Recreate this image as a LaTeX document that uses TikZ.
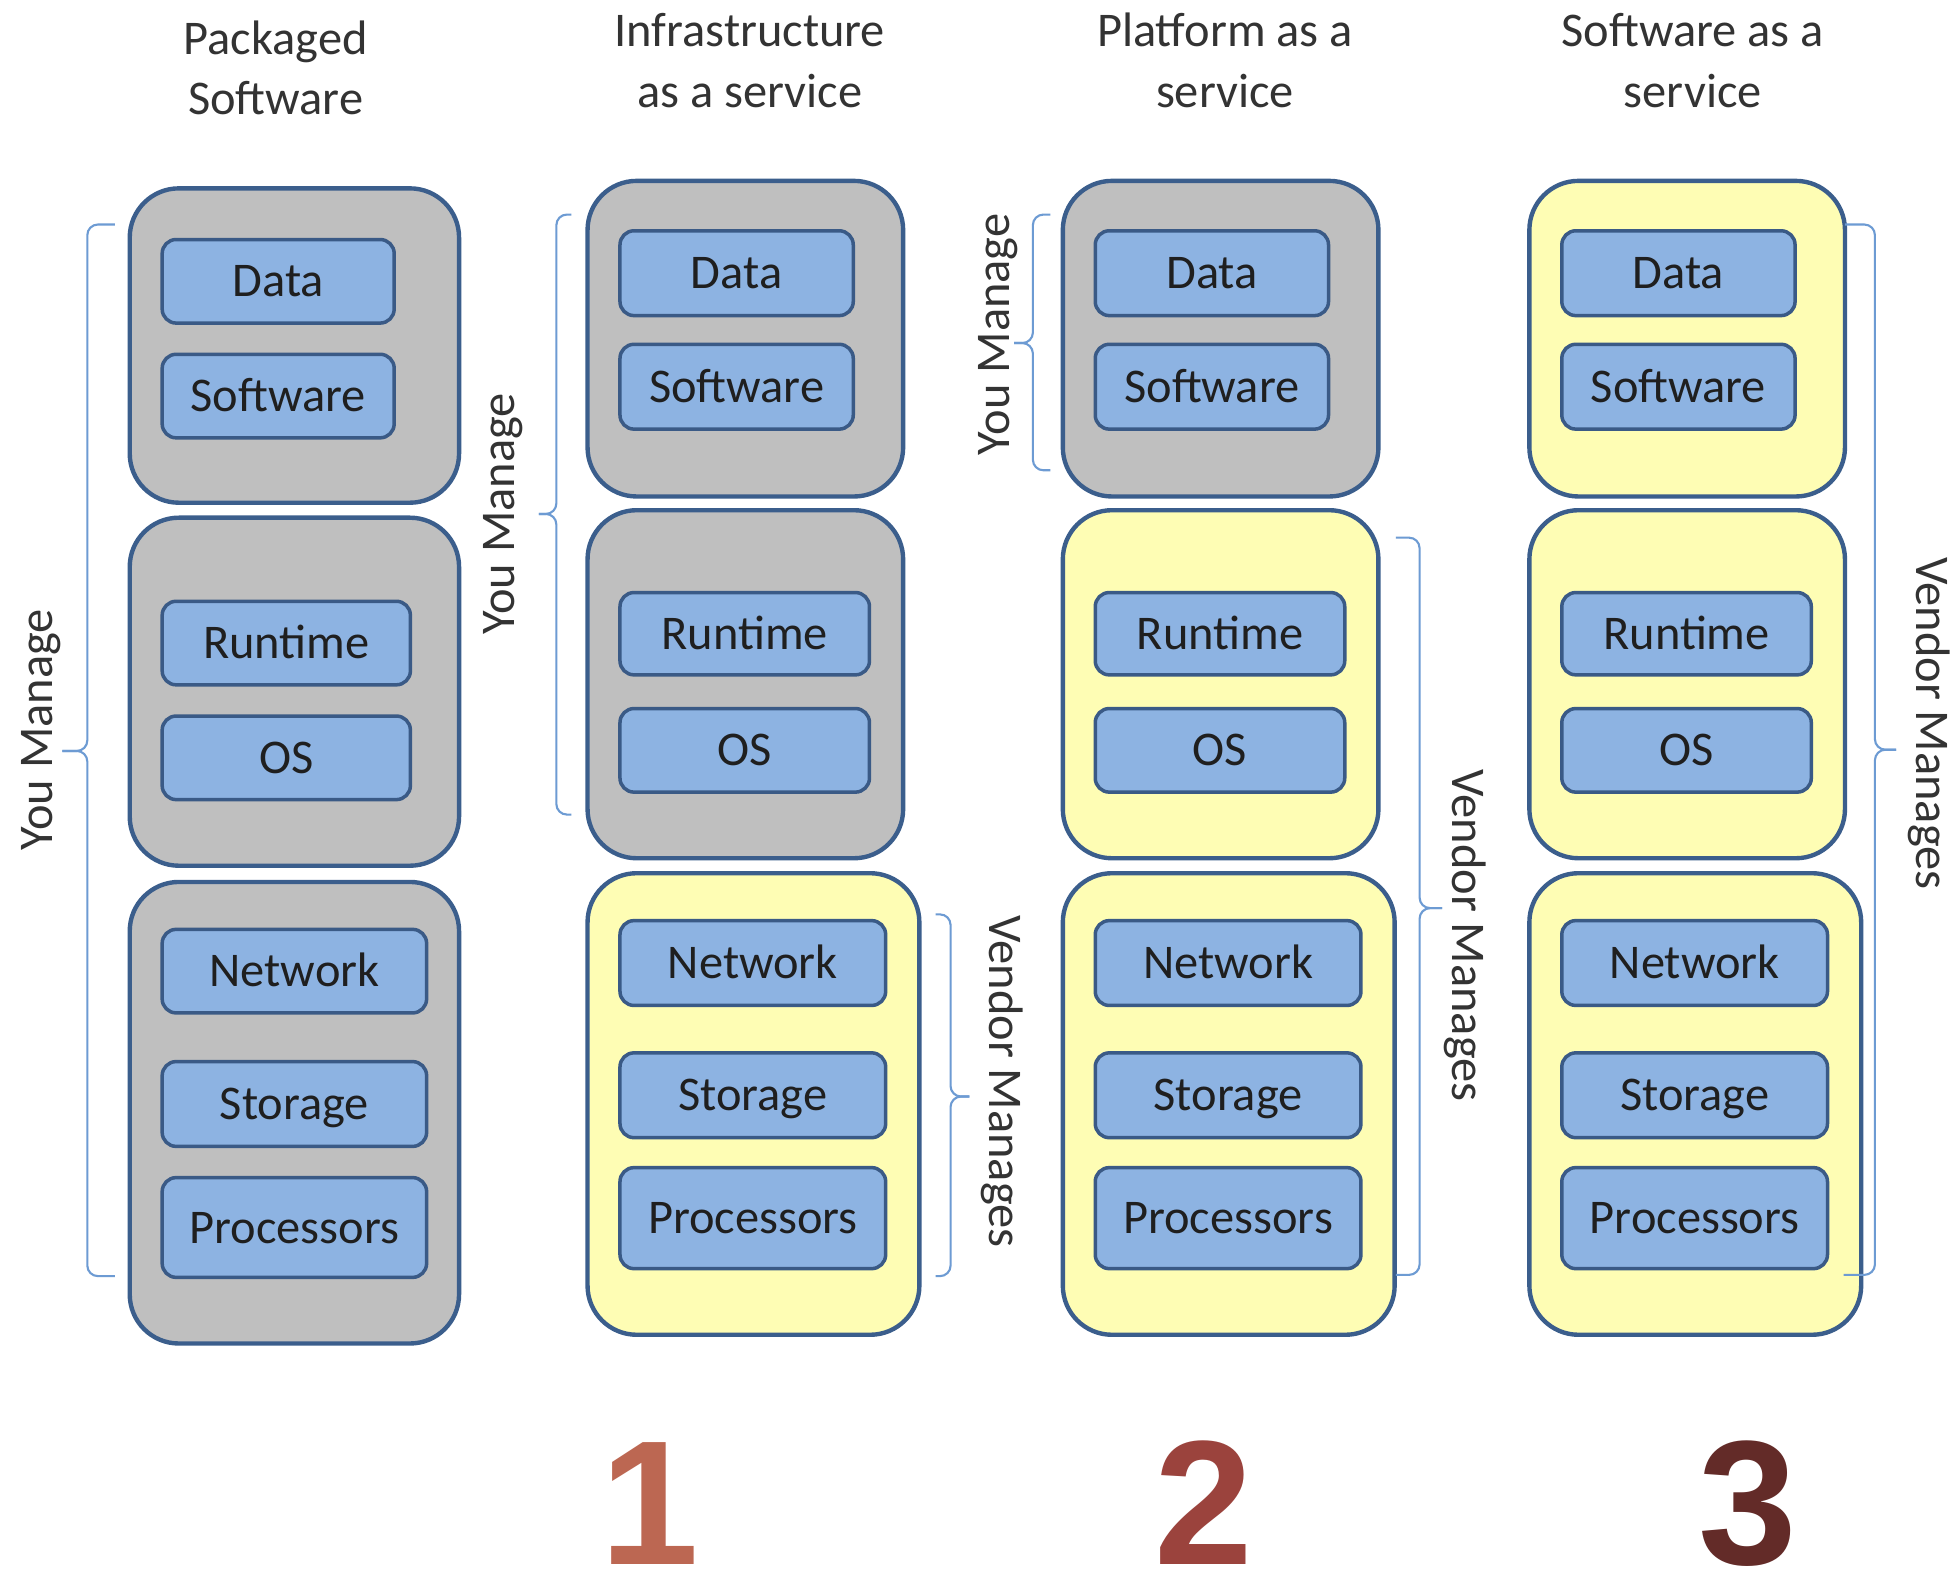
\documentclass[tikz,border=0pt]{standalone}
\usepackage{fontspec}
\setmainfont{Carlito}
\newfontfamily\numfont{Liberation Sans}
\usetikzlibrary{fit}
\definecolor{obord}{HTML}{3B5E8C}
\definecolor{gfill}{HTML}{BFBFBF}
\definecolor{yfill}{HTML}{FEFDB4}
\definecolor{ibord}{HTML}{3A5A86}
\definecolor{ifill}{HTML}{8DB3E2}
\definecolor{brc}{HTML}{6D9BD3}
\definecolor{hdr}{HTML}{333333}
\definecolor{numA}{HTML}{BC6752}
\definecolor{numB}{HTML}{9B433D}
\definecolor{numC}{HTML}{632B28}
% name, x1, y1, x2, y2, text
\newcommand\layerbox[6]{%
  \node[layer, minimum width={(#4-#2)*0.0125cm}, minimum height={(#5-#3)*0.0125cm}]
    (#1) at ({(#2+#4)/2},{(#3+#5)/2}) {#6};}
\begin{document}
\begin{tikzpicture}[x=0.0125cm,y=-0.0125cm,
  outerbox/.style={draw=obord, line width=1.25pt, rounded corners=14pt, inner sep=0pt},
  layer/.style={draw=ibord, line width=1pt, fill=ifill, rounded corners=4pt, inner sep=0pt, outer sep=0pt,
    font=\fontsize{13.8}{16}\selectfont, text=black!88, text height=8.85pt, text depth=0pt},
  hdrtext/.style={anchor=base, inner sep=0pt, font=\fontsize{13.8}{17}\selectfont, text=hdr},
  sidetext/.style={font=\fontsize{13.8}{16}\selectfont, text=hdr, text height=8.85pt, text depth=0pt, inner sep=0pt},
  bracel/.style={draw=brc, line width=0.6pt, rounded corners=3pt},
  numtext/.style={font=\numfont\bfseries\fontsize{50.5}{60}\selectfont, anchor=base, inner sep=0pt}
]
\fill[white] (0,0) rectangle (1568,1262);
\useasboundingbox (0,0) rectangle (1568,1262);

% headers
\node[hdrtext] (h1a) at (221,44) {Packaged};
\node[hdrtext] (h1b) at (221,92) {Software};
\node[hdrtext] (h2a) at (601,37) {Infrastructure};
\node[hdrtext] (h2b) at (601,86) {as a service};
\node[hdrtext] (h3a) at (982,37) {Platform as a};
\node[hdrtext] (h3b) at (982,86) {service};
\node[hdrtext] (h4a) at (1357,37) {Software as a};
\node[hdrtext] (h4b) at (1357,86) {service};

% column 1: packaged software
\node[outerbox, fill=gfill, fit={(104,151)(368,403)}] (o11) {};
\layerbox{data1}{130}{192}{316}{259}{Data}
\layerbox{soft1}{130}{284}{316}{351}{Software}
\node[outerbox, fill=gfill, fit={(104,415)(368,694)}] (o12) {};
\layerbox{run1}{130}{482}{329}{549}{Runtime}
\layerbox{os1}{130}{574}{329}{641}{OS}
\node[outerbox, fill=gfill, fit={(104,707)(368,1077)}] (o13) {};
\layerbox{net1}{130}{745}{342}{812}{Network}
\layerbox{sto1}{130}{851}{342}{919}{Storage}
\layerbox{proc1}{130}{944}{342}{1024}{Processors}

% columns 2-4
\foreach \c/\dx/\fa/\fb/\fc in {2/0/gfill/gfill/yfill, 3/381/gfill/yfill/yfill, 4/755/yfill/yfill/yfill}{
  \begin{scope}[shift={(\dx,0)}]
    \node[outerbox, fill=\fa, fit={(471,145)(724,398)}] (o\c1) {};
    \layerbox{data\c}{497}{185}{684}{253}{Data}
    \layerbox{soft\c}{497}{276}{684}{344}{Software}
    \node[outerbox, fill=\fb, fit={(471,409)(724,688)}] (o\c2) {};
    \layerbox{run\c}{497}{475}{697}{541}{Runtime}
    \layerbox{os\c}{497}{568}{697}{635}{OS}
    \node[outerbox, fill=\fc, fit={(471,700)(737,1070)}] (o\c3) {};
    \layerbox{net\c}{497}{738}{710}{806}{Network}
    \layerbox{sto\c}{497}{844}{710}{912}{Storage}
    \layerbox{proc\c}{497}{936}{710}{1017}{Processors}
  \end{scope}
}

% braces
% col 1 left
\coordinate (b1t) at (92,180); \coordinate (b1m) at (50,602); \coordinate (b1b) at (92,1023);
\draw[bracel] (b1t) -- (70,180) -- (70,602) -- (b1m);
\draw[bracel] (b1m) -- (70,602) -- (70,1023) -- (b1b);
% col 2 left
\coordinate (b2t) at (458,172); \coordinate (b2m) at (432,412); \coordinate (b2b) at (458,653);
\draw[bracel] (b2t) -- (446,172) -- (446,412) -- (b2m);
\draw[bracel] (b2m) -- (446,412) -- (446,653) -- (b2b);
% col 2 right
\coordinate (v2t) at (750,733); \coordinate (v2m) at (777,879); \coordinate (v2b) at (750,1023);
\draw[bracel] (v2t) -- (762,733) -- (762,879) -- (v2m);
\draw[bracel] (v2m) -- (762,879) -- (762,1023) -- (v2b);
% col 3 left
\coordinate (b3t) at (842,172); \coordinate (b3m) at (813,275); \coordinate (b3b) at (842,377);
\draw[bracel] (b3t) -- (828,172) -- (828,275) -- (b3m);
\draw[bracel] (b3m) -- (828,275) -- (828,377) -- (b3b);
% col 3 right
\coordinate (v3t) at (1119,431); \coordinate (v3m) at (1156,728); \coordinate (v3b) at (1119,1022);
\draw[bracel] (v3t) -- (1138,431) -- (1138,728) -- (v3m);
\draw[bracel] (v3m) -- (1138,728) -- (1138,1022) -- (v3b);
% col 4 right
\coordinate (v4t) at (1479,180); \coordinate (v4m) at (1520,601); \coordinate (v4b) at (1478,1022);
\draw[bracel] (v4t) -- (1503,180) -- (1503,601) -- (v4m);
\draw[bracel] (v4m) -- (1503,601) -- (1503,1022) -- (v4b);

% side labels
\node[sidetext, rotate=90] (ym1) at (30,585) {You Manage};
\node[sidetext, rotate=90] (ym2) at (400,412) {You Manage};
\node[sidetext, rotate=90] (ym3) at (797,268) {You Manage};
\node[sidetext, rotate=-90] (vm2) at (806,867) {Vendor Manages};
\node[sidetext, rotate=-90] (vm3) at (1177,750) {Vendor Manages};
\node[sidetext, rotate=-90] (vm4) at (1549,580) {Vendor Manages};

% numbers
\node[numtext, text=numA] (n1) at (521,1254) {1};
\node[numtext, text=numB] (n2) at (965,1254) {2};
\node[numtext, text=numC] (n3) at (1401,1254) {3};
\end{tikzpicture}
\end{document}
